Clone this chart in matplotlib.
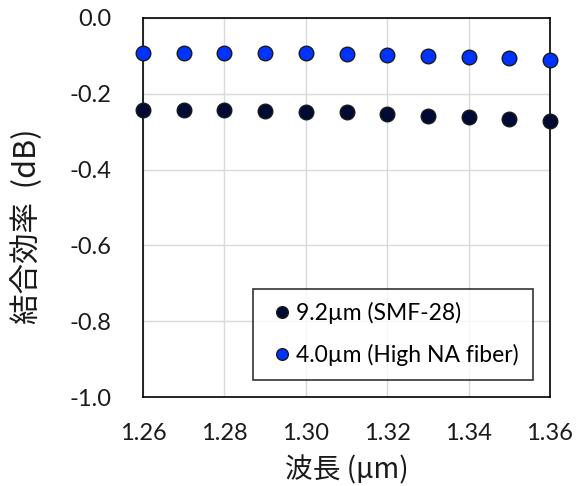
import numpy as np
import matplotlib.pyplot as plt

plt.rcParams['font.family'] = ['Lato', 'Noto Sans CJK JP', 'DejaVu Sans']

wavelength = [1.26, 1.27, 1.28, 1.29, 1.30, 1.31, 1.32, 1.33, 1.34, 1.35, 1.36]
smf28 = [-0.243, -0.243, -0.243, -0.245, -0.247, -0.249, -0.253, -0.258, -0.262, -0.267, -0.272]
high_na = [-0.093, -0.093, -0.093, -0.093, -0.093, -0.095, -0.098, -0.100, -0.104, -0.106, -0.111]
labels = ['9.2µm (SMF-28)', '4.0µm (High NA fiber)']
xticks = [1.26, 1.28, 1.30, 1.32, 1.34, 1.36]
yticks = [0.0, -0.2, -0.4, -0.6, -0.8, -1.0]

fig = plt.figure(figsize=(5.81, 4.86), dpi=100)
ax = fig.add_axes([143/581, 1-397/486, (550-143)/581, (397-18)/486])

ax.plot(wavelength, smf28, 'o', color='#000b33', mec='#1a1a1a', mew=1.0, ms=10.5,
        label=labels[0], clip_on=False, zorder=3)
ax.plot(wavelength, high_na, 'o', color='#0033ff', mec='#1a1a1a', mew=1.0, ms=10.5,
        label=labels[1], clip_on=False, zorder=3)

ax.set_xlim(1.26, 1.36)
ax.set_ylim(-1.0, 0.0)
ax.set_xticks(xticks)
ax.set_xticklabels(['%.2f' % v for v in xticks])
ax.set_yticks(yticks)
ax.set_yticklabels(['%.1f' % v for v in yticks])
ax.tick_params(length=0, labelsize=17, colors='#1a1a1a')
ax.tick_params(axis='x', pad=19)
ax.tick_params(axis='y', pad=23)
ax.grid(True, color='#d9d9d9', lw=1.0)
ax.set_axisbelow(True)
for s in ax.spines.values():
    s.set_color('black')
    s.set_linewidth(1.2)

ax.set_xlabel('波長 (µm)', fontsize=20, labelpad=8, color='#1a1a1a',
              family=['Noto Sans CJK JP', 'DejaVu Sans'])
ax.set_ylabel('結合効率  (dB)', fontsize=22, color='#1a1a1a',
              family=['Noto Sans CJK JP', 'DejaVu Sans'])
ax.yaxis.set_label_coords(-0.245, 0.45)

leg = ax.legend(loc='lower right', fontsize=16.5, frameon=True, fancybox=False,
                edgecolor='black', handletextpad=0.0, handlelength=1.3,
                borderaxespad=0.75, labelspacing=0.85, markerscale=0.8,
                borderpad=0.6)
leg.get_frame().set_linewidth(1.2)

fig.savefig('out.png', dpi=100)
